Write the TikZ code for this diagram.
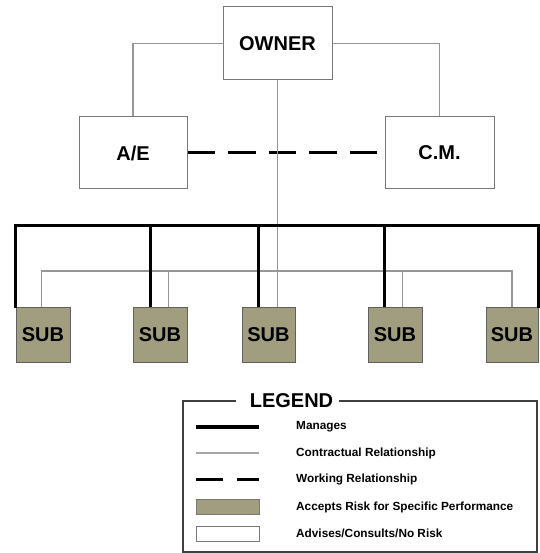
\documentclass[tikz,border=0pt]{standalone}
\usepackage{fontspec}
\setmainfont{Liberation Sans}
\begin{document}
\definecolor{riskfill}{RGB}{160,158,127}
\definecolor{boxline}{RGB}{120,120,120}
\definecolor{contract}{RGB}{150,150,150}
\begin{tikzpicture}[x=1pt,y=-1pt,
  party/.style={draw=boxline,line width=1pt,fill=white,inner sep=0pt,
    font=\fontsize{20}{22}\selectfont\bfseries},
  subbox/.style={draw=boxline!80!black,line width=1pt,fill=riskfill,inner sep=0pt,
    minimum height=55pt,font=\fontsize{20}{22}\selectfont\bfseries},
  manages/.style={line width=3pt,black},
  contractual/.style={line width=1.2pt,contract},
  working/.style={line width=3pt,black,dash pattern=on 27.5pt off 13pt},
  legtext/.style={anchor=west,inner sep=0pt,font=\fontsize{11.8}{13}\selectfont\bfseries},
  legsample/.style={line width=1pt,minimum width=63pt,minimum height=15pt,inner sep=0pt}
]
\useasboundingbox (0,0) rectangle (539,553);

% principal parties
\node[party,minimum width=109pt,minimum height=73pt] (owner) at (277.5,43.5) {OWNER};
\node[party,minimum width=108pt,minimum height=72pt] (ae) at (133,153) {A/E};
\node[party,minimum width=109pt,minimum height=72pt] (cm) at (439.5,153) {C.M.};

% subcontractors
\node[subbox,minimum width=54pt] (sub1) at (43,334.5) {SUB};
\node[subbox,minimum width=54pt] (sub2) at (160,334.5) {SUB};
\node[subbox,minimum width=53pt] (sub3) at (268.5,334.5) {SUB};
\node[subbox,minimum width=54pt] (sub4) at (395,334.5) {SUB};
\node[subbox,minimum width=52pt] (sub5) at (512,334.5) {SUB};

% owner contracts with A/E and C.M.
\draw[contractual] (owner.west) -| (ae.north);
\draw[contractual] (owner.east) -| (cm.north);

% A/E -- C.M. working relationship
\draw[working] (ae.east) -- (cm.west);

% contractual bus to the subs
\coordinate (cbus) at (0,271);
\draw[contractual] (owner.south) -- (owner.south |- sub3.north);
\draw[contractual] ([xshift=26pt]sub1.north west) |- (cbus -| sub5.north)
  -- (sub5.north);
\draw[contractual] ([xshift=36pt]sub2.north west) -- ([xshift=36pt]sub2.north west |- cbus);
\draw[contractual] ([xshift=35pt]sub4.north west) -- ([xshift=35pt]sub4.north west |- cbus);

% C.M. manages the subs
\coordinate (mbus) at (0,225);
\draw[manages,line cap=rect] (sub1.north west) -- (sub1.north west |- mbus)
  -- (sub5.north east |- mbus) -- (sub5.north east);
\draw[manages] ([xshift=18pt]sub2.north west) -- ([xshift=18pt]sub2.north west |- mbus);
\draw[manages] ([xshift=17pt]sub3.north west) -- ([xshift=17pt]sub3.north west |- mbus);
\draw[manages] ([xshift=17pt]sub4.north west) -- ([xshift=17pt]sub4.north west |- mbus);

% legend frame
\node[inner sep=0pt,font=\fontsize{20}{22}\selectfont\bfseries] (legend) at (291.5,401) {LEGEND};
\draw[line width=1.4pt,black!75] (legend.west) ++(-14,0) -- (183,401) -- (183,552)
  -- (537,552) -- (537,401) -- ([xshift=6pt]legend.east);

% legend entries
\coordinate (l1a) at (196,427); \coordinate (l1b) at (259,427);
\coordinate (l2a) at (196,453); \coordinate (l2b) at (259,453);
\coordinate (l3a) at (196,479); \coordinate (l3b) at (259,479);
\draw[manages,line width=3.5pt] (l1a) -- (l1b);
\draw[contractual,line width=1.6pt,black!35] (l2a) -- (l2b);
\draw[line width=3pt,dash pattern=on 27pt off 14pt] (l3a) -- (l3b);
\node[legsample,draw=boxline,fill=riskfill] (l4) at (227.5,506.5) {};
\node[legsample,draw=boxline,fill=white] (l5) at (227.5,533.5) {};

\node[legtext] (t1) at (296,427) {Manages};
\node[legtext] (t2) at (296,453) {Contractual Relationship};
\node[legtext] (t3) at (296,479) {Working Relationship};
\node[legtext] (t4) at (296,507) {Accepts Risk for Specific Performance};
\node[legtext] (t5) at (296,533) {Advises/Consults/No Risk};
\end{tikzpicture}
\end{document}
